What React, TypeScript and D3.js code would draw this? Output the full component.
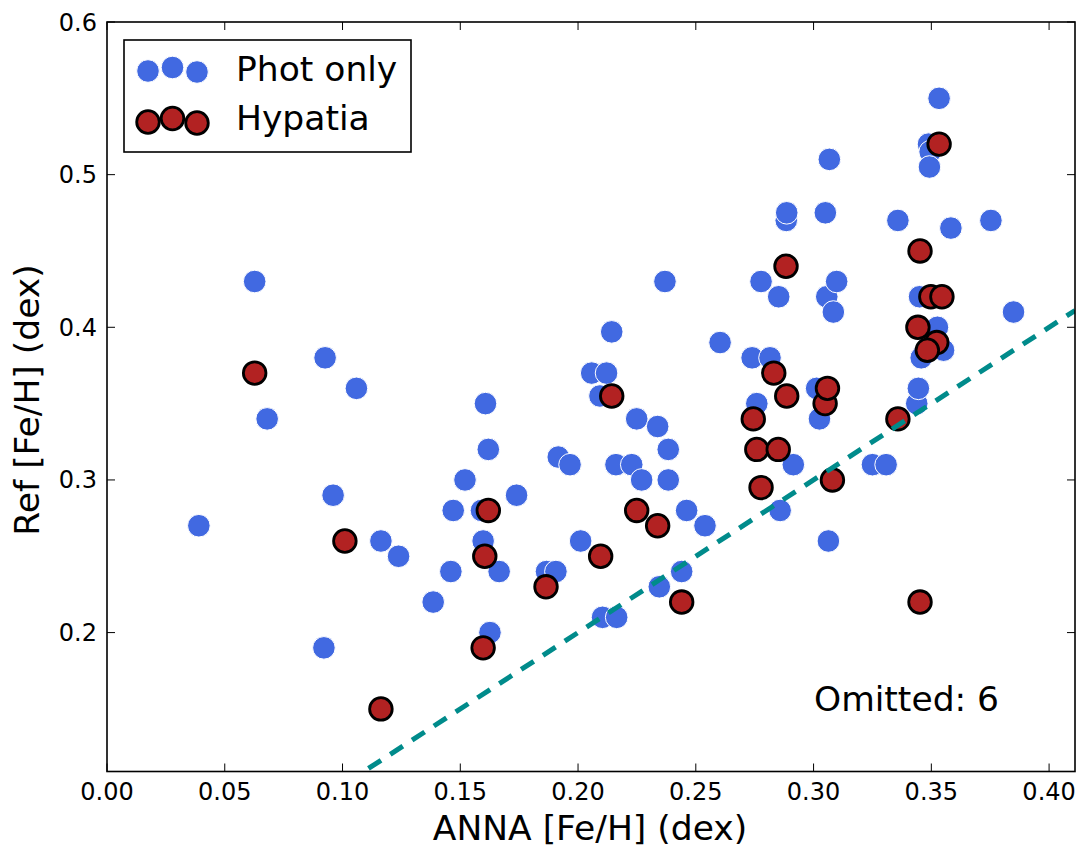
import React from "react";
import * as d3 from "d3";

const photX = [0.039,0.0627,0.068,0.0926,0.096,0.1059,0.0921,0.1163,0.1238,0.1385,0.146,0.147,0.152,0.1607,0.1619,0.1597,0.159,0.1626,0.1665,0.1739,0.1866,0.1906,0.1916,0.1966,0.2011,0.2058,0.2121,0.2093,0.2143,0.2104,0.2164,0.2161,0.2228,0.2249,0.227,0.2338,0.2345,0.2369,0.2383,0.2383,0.244,0.2461,0.2539,0.2603,0.2739,0.2759,0.2777,0.2815,0.2852,0.2858,0.2884,0.2886,0.2914,0.3013,0.3025,0.305,0.3056,0.3063,0.3067,0.3084,0.3098,0.325,0.3308,0.3358,0.3438,0.3445,0.345,0.3457,0.3488,0.3495,0.3492,0.3526,0.3533,0.3552,0.3583,0.3753,0.3849];
const photY = [0.27,0.43,0.34,0.38,0.29,0.36,0.19,0.26,0.25,0.22,0.24,0.28,0.30,0.35,0.32,0.26,0.28,0.20,0.24,0.29,0.24,0.24,0.315,0.31,0.26,0.37,0.37,0.355,0.397,0.21,0.21,0.31,0.31,0.34,0.30,0.335,0.23,0.43,0.32,0.30,0.24,0.28,0.27,0.39,0.38,0.35,0.43,0.38,0.42,0.28,0.47,0.475,0.31,0.36,0.34,0.475,0.42,0.26,0.51,0.41,0.43,0.31,0.31,0.47,0.35,0.36,0.42,0.38,0.52,0.515,0.505,0.40,0.55,0.385,0.465,0.47,0.41];

const hypX = [0.0627,0.101,0.1163,0.1597,0.1604,0.1619,0.1864,0.2096,0.2143,0.2249,0.2338,0.244,0.2744,0.2759,0.2777,0.2831,0.285,0.2883,0.2886,0.3049,0.3059,0.308,0.3358,0.3452,0.3452,0.3443,0.3498,0.3545,0.3523,0.3483,0.3533];
const hypY = [0.37,0.26,0.15,0.19,0.25,0.28,0.23,0.25,0.355,0.28,0.27,0.22,0.34,0.32,0.295,0.37,0.32,0.44,0.355,0.35,0.36,0.30,0.34,0.22,0.45,0.40,0.42,0.42,0.39,0.385,0.52];

const xTicks = [0, 0.05, 0.1, 0.15, 0.2, 0.25, 0.3, 0.35, 0.4];
const yTicks = [0.2, 0.3, 0.4, 0.5, 0.6];
const legendLabels = ["Phot only", "Hypatia"];
const omittedCount = 6;

const W = 1084, H = 853;
const L = 107, R = 1075, T = 22, B = 771.5;
const FONT = "'DejaVu Sans', sans-serif";
const BLUE = "#4169E1";
const RED = "#B22222";
const RAD = 11.3;

export default function App() {
  const x = d3.scaleLinear().domain([0, 0.411]).range([L, R]);
  const y = d3.scaleLinear().domain([0.109, 0.6]).range([B, T]);
  const fx = d3.format(".2f");
  const fy = d3.format(".1f");
  const oneToOne = d3.line<number>().x((d) => x(d)).y((d) => y(d));
  const legOff = [[0, 1], [24.5, -2.5], [49, 2]];

  return (
    <svg width={W} height={H} style={{ position: "absolute", left: 0, top: 0, background: "#fff" }} fontFamily={FONT}>
      <defs>
        <clipPath id="plotclip">
          <rect x={L} y={T} width={R - L} height={B - T} />
        </clipPath>
      </defs>
      <rect x={0} y={0} width={W} height={H} fill="#fff" />
      <g clipPath="url(#plotclip)">
        {photX.map((v, i) => (
          <circle key={"p" + i} cx={x(v)} cy={y(photY[i])} r={RAD} fill={BLUE} stroke="#fff" strokeWidth={1} />
        ))}
        {hypX.map((v, i) => (
          <circle key={"h" + i} cx={x(v)} cy={y(hypY[i])} r={RAD} fill={RED} stroke="#000" strokeWidth={2.8} />
        ))}
        <path d={oneToOne([0.111, 0.411]) || ""} fill="none" stroke="#008b8b" strokeWidth={5} strokeDasharray="15,11" />
      </g>
      {xTicks.map((t) => (
        <g key={"xt" + t}>
          <line x1={x(t)} x2={x(t)} y1={B} y2={B - 8} stroke="#000" strokeWidth={1} />
          <line x1={x(t)} x2={x(t)} y1={T} y2={T + 8} stroke="#000" strokeWidth={1} />
          <text x={x(t)} y={800} fontSize={24} textAnchor="middle">{fx(t)}</text>
        </g>
      ))}
      {yTicks.map((t) => (
        <g key={"yt" + t}>
          <line x1={L} x2={L + 8} y1={y(t)} y2={y(t)} stroke="#000" strokeWidth={1} />
          <line x1={R} x2={R - 8} y1={y(t)} y2={y(t)} stroke="#000" strokeWidth={1} />
          <text x={97} y={y(t) + 8.5} fontSize={24} textAnchor="end">{fy(t)}</text>
        </g>
      ))}
      <rect x={L} y={T} width={R - L} height={B - T} fill="none" stroke="#000" strokeWidth={1.6} />
      <rect x={124} y={40} width={287} height={112} fill="#fff" stroke="#000" strokeWidth={1.6} />
      {legOff.map((o, i) => (
        <circle key={"lb" + i} cx={148 + o[0]} cy={70 + o[1]} r={RAD} fill={BLUE} stroke="#fff" strokeWidth={1} />
      ))}
      {legOff.map((o, i) => (
        <circle key={"lr" + i} cx={148 + o[0]} cy={121 + o[1]} r={RAD} fill={RED} stroke="#000" strokeWidth={2.8} />
      ))}
      <text x={236} y={81} fontSize={34.5}>{legendLabels[0]}</text>
      <text x={236} y={130} fontSize={34.5}>{legendLabels[1]}</text>
      <text x={814} y={711} fontSize={34.5}>{`Omitted: ${omittedCount}`}</text>
      <text x={590} y={840} fontSize={34.5} textAnchor="middle">ANNA [Fe/H] (dex)</text>
      <text transform={`translate(39,400) rotate(-90)`} fontSize={34.5} textAnchor="middle">Ref [Fe/H] (dex)</text>
    </svg>
  );
}
